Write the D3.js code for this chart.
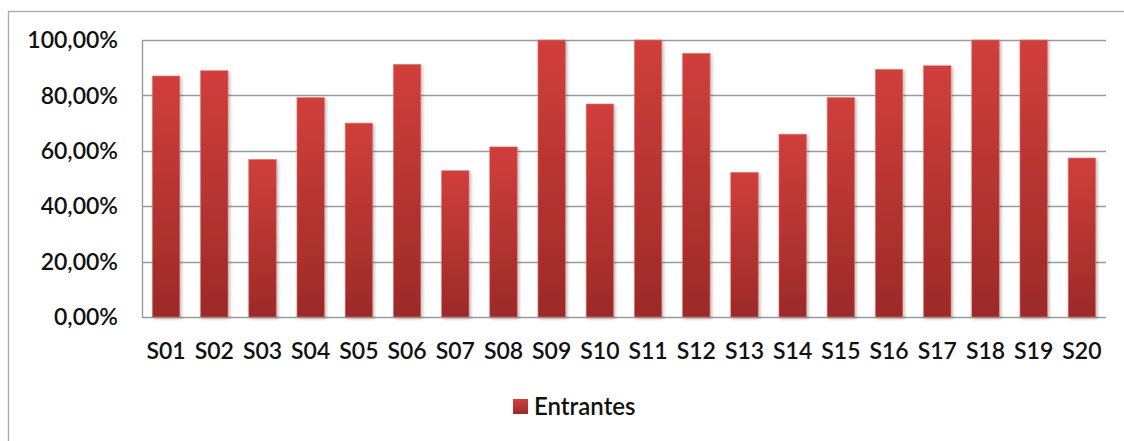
<!DOCTYPE html>
<html>
<head>
<meta charset="utf-8">
<script src="https://cdn.jsdelivr.net/npm/d3@7/dist/d3.min.js"></script>
<style>
  html, body { margin: 0; padding: 0; background: #fff; }
  svg { display: block; }
  text { font-family: Lato, "Open Sans", sans-serif; fill: #111; }
</style>
</head>
<body>
<svg id="chart" width="1124" height="441"></svg>
<script>
// Share of "Entrantes" per S-group
const categories = ["S01","S02","S03","S04","S05","S06","S07","S08","S09","S10",
                    "S11","S12","S13","S14","S15","S16","S17","S18","S19","S20"];
const entrantes = [0.870, 0.889, 0.569, 0.792, 0.700, 0.912, 0.528, 0.614, 1.000, 0.769,
                   1.000, 0.952, 0.522, 0.660, 0.792, 0.894, 0.907, 1.000, 1.000, 0.574];
const yTicks = [0, 0.2, 0.4, 0.6, 0.8, 1.0];
const seriesName = "Entrantes";

const svg = d3.select("#chart");
const W = 1124, H = 441;
const plot = { left: 142, right: 1106, top: 40, bottom: 317 };

const x = d3.scaleBand()
  .domain(categories)
  .range([plot.left, plot.right])
  .paddingInner(0.43)
  .paddingOuter(0.215);

const y = d3.scaleLinear()
  .domain([0, 1])
  .range([plot.bottom, plot.top]);

const fmt = v => d3.format(".2f")(v * 100).replace(".", ",") + "%";

const defs = svg.append("defs");
const grad = defs.append("linearGradient")
  .attr("id", "barGrad").attr("x1", 0).attr("y1", 0).attr("x2", 0).attr("y2", 1);
grad.append("stop").attr("offset", "0%").attr("stop-color", "#d03f3b");
grad.append("stop").attr("offset", "100%").attr("stop-color", "#9c2a28");

const shadow = defs.append("filter").attr("id", "barShadow")
  .attr("x", "-30%").attr("y", "-10%").attr("width", "160%").attr("height", "130%");
shadow.append("feDropShadow")
  .attr("dx", 1.5).attr("dy", 1.5).attr("stdDeviation", 1.8)
  .attr("flood-color", "#000").attr("flood-opacity", 0.28);

// outer chart frame
svg.append("rect")
  .attr("x", 8.5).attr("y", 11.5)
  .attr("width", W + 20).attr("height", H + 20)
  .attr("fill", "none").attr("stroke", "#a9a9a9").attr("stroke-width", 1.3);

// horizontal gridlines
svg.append("g")
  .selectAll("line")
  .data(yTicks)
  .join("line")
  .attr("x1", plot.left).attr("x2", plot.right)
  .attr("y1", d => Math.round(y(d)) + 0.5).attr("y2", d => Math.round(y(d)) + 0.5)
  .attr("stroke", "#9a9a9a").attr("stroke-width", 1.4);

// vertical axis line
svg.append("line")
  .attr("x1", plot.left + 0.5).attr("x2", plot.left + 0.5)
  .attr("y1", plot.top).attr("y2", plot.bottom + 0.5)
  .attr("stroke", "#9a9a9a").attr("stroke-width", 1.4);

// bars
svg.append("g")
  .selectAll("rect")
  .data(entrantes)
  .join("rect")
  .attr("x", (d, i) => x(categories[i]))
  .attr("y", d => y(d))
  .attr("width", x.bandwidth())
  .attr("height", d => y(0) - y(d))
  .attr("fill", "url(#barGrad)")
  .attr("stroke", "#e07a76").attr("stroke-width", 0.6)
  .attr("filter", "url(#barShadow)");

// y tick labels
svg.append("g")
  .selectAll("text")
  .data(yTicks)
  .join("text")
  .attr("x", 118)
  .attr("y", d => y(d))
  .attr("dy", "0.36em")
  .attr("text-anchor", "end")
  .attr("font-size", 23)
  .attr("font-weight", 600)
  .text(fmt);

// category labels
svg.append("g")
  .selectAll("text")
  .data(categories)
  .join("text")
  .attr("x", d => x(d) + x.bandwidth() / 2)
  .attr("y", 359)
  .attr("text-anchor", "middle")
  .attr("font-size", 23)
  .attr("font-weight", 600)
  .text(d => d);

// legend
const legend = svg.append("g");
legend.append("rect")
  .attr("x", 513).attr("y", 399).attr("width", 15).attr("height", 15)
  .attr("fill", "url(#barGrad)");
legend.append("text")
  .attr("x", 534).attr("y", 415)
  .attr("font-size", 24)
  .attr("font-weight", 600)
  .text(seriesName);
</script>
</body>
</html>
